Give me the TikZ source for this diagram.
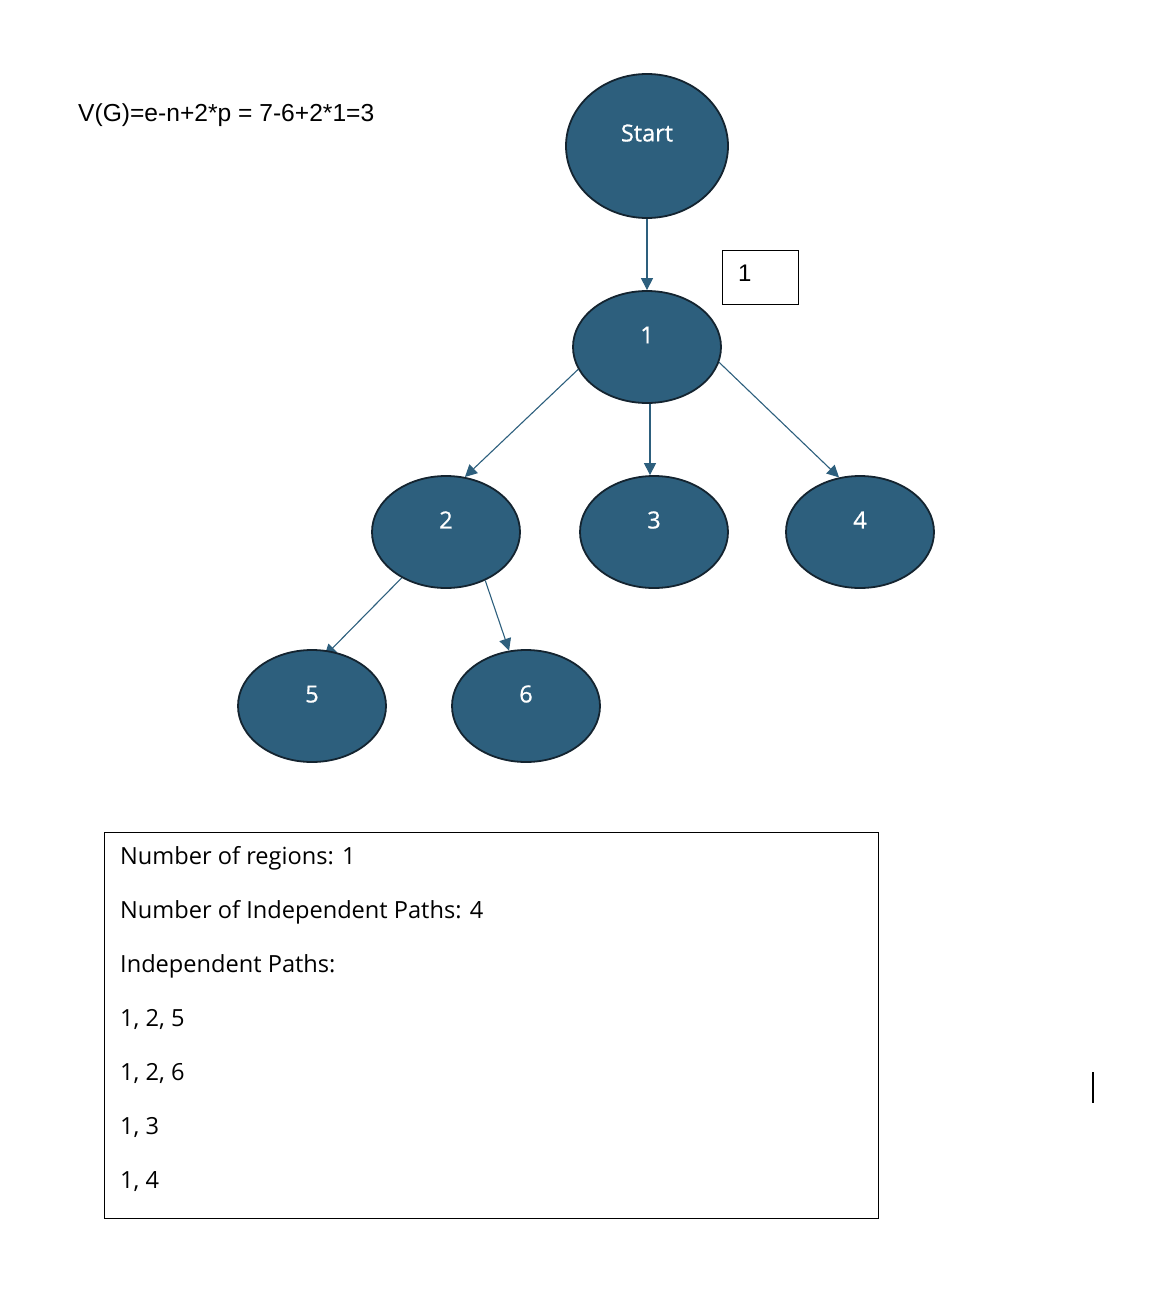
\documentclass[tikz,border=0pt]{standalone}
\usepackage{fontspec}
\setmainfont{Open Sans}
\newfontfamily\arialf{Liberation Sans}
\newfontfamily\nodefont[FakeBold=0.8]{Open Sans}
\usetikzlibrary{shapes.geometric,arrows.meta,backgrounds}
\definecolor{nodefill}{RGB}{45,95,125}
\definecolor{nodeline}{RGB}{20,36,48}
\begin{document}
\begin{tikzpicture}[x=1pt,y=-1pt,
  gnode/.style={ellipse, draw=nodeline, line width=1.8pt, fill=nodefill, text=white,
    inner sep=0pt, minimum width=148pt, minimum height=112pt,
    font=\nodefont\fontsize{23.5}{27}\selectfont, text height=16.8pt, text depth=24pt},
  startnode/.style={gnode, minimum width=162pt, minimum height=144pt, text depth=26pt},
  edge/.style={draw=nodefill, line width=1.1pt, -{Triangle[length=12pt,width=12pt]}},
  plain/.style={font=\fontsize{23.6}{27}\selectfont, inner sep=0pt, anchor=base west},
  framebox/.style={draw=black, line width=1.1pt, inner sep=0pt, anchor=north west}
]
\useasboundingbox (0,0) rectangle (1164,1306);

% formula
\node[plain, font=\arialf\fontsize{24.6}{28}\selectfont] (formula) at (78,121) {V(G)=e-n+2*p = 7-6+2*1=3};

% graph nodes
\node[startnode] (s) at (647,146) {Start};
\node[gnode] (n1) at (647,347) {1};
\node[gnode] (n2) at (446,532) {2};
\node[gnode] (n3) at (654,532) {3};
\node[gnode] (n4) at (860,532) {4};
\node[gnode] (n5) at (312,706) {5};
\node[gnode] (n6) at (526,706) {6};

% region label box
\node[framebox, minimum width=76pt, minimum height=54pt] (rbox) at (722,250) {};
\node[plain, font=\arialf\fontsize{24}{27}\selectfont] (rlabel) at (738,281) {1};

% edges
\draw[edge] (s.south) -- (n1.north);
\draw[edge] (n1.198) -- (n2.71);
\draw[edge] ([xshift=3pt]n1.south) -- ([xshift=-4pt]n3.north);
\draw[edge] (n1.-12) -- (n4.111);
\begin{pgfonlayer}{background}
\draw[edge, shorten >=-8pt] (n2.226) -- (n5.72);
\end{pgfonlayer}
\draw[edge] (n2.-51) -- (n6.107);

% info box
\node[framebox, minimum width=774pt, minimum height=386pt] (info) at (104,832) {};
\node[plain] (l1) at (120,864) {Number of regions: 1};
\node[plain] (l2) at (120,918) {Number of Independent Paths: 4};
\node[plain] (l3) at (120,972) {Independent Paths:};
\node[plain] (l4) at (120,1026) {1, 2, 5};
\node[plain] (l5) at (120,1080) {1, 2, 6};
\node[plain] (l6) at (120,1134) {1, 3};
\node[plain] (l7) at (120,1188) {1, 4};

% stray cursor mark
\coordinate (cA) at (1093,1072);
\coordinate (cB) at (1093,1103);
\draw[line width=2pt] (cA) -- (cB);
\end{tikzpicture}
\end{document}
